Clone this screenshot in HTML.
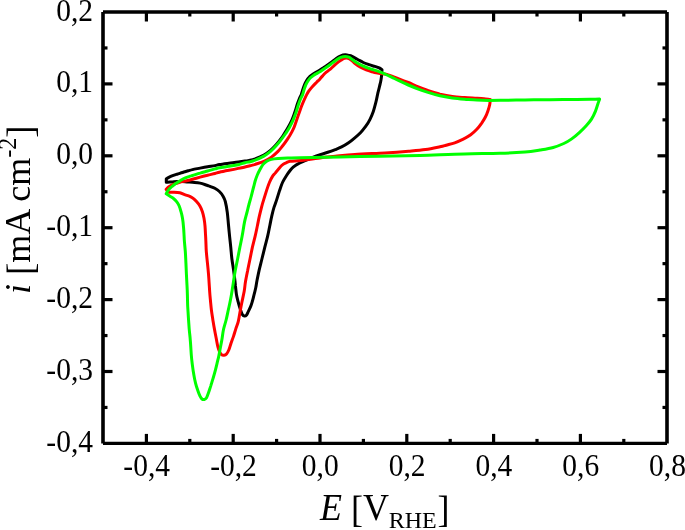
<!DOCTYPE html>
<html><head><meta charset="utf-8"><style>
html,body{margin:0;padding:0;background:#fff;}
body{width:685px;height:530px;overflow:hidden;}
svg{display:block;}
text{font-family:"Liberation Serif","DejaVu Serif",serif;fill:#000;}
</style></head><body>
<svg width="685" height="530" viewBox="0 0 685 530">
<g fill="none" stroke-width="3" stroke-linejoin="round" stroke-linecap="round">
<path stroke="#000" d="M166.3,178.8C167.1,178.4 169.5,177.0 171.3,176.2C173.1,175.4 175.1,174.8 177.0,174.2C178.9,173.6 180.7,173.1 182.6,172.5C184.5,171.9 186.7,171.3 188.3,170.8C190.0,170.3 190.5,170.1 192.5,169.6C194.5,169.1 197.6,168.6 200.1,168.1C202.6,167.6 205.1,167.1 207.6,166.7C210.1,166.3 213.0,166.0 215.0,165.6C217.0,165.2 217.1,164.9 219.4,164.5C221.7,164.1 225.8,163.6 228.9,163.2C232.1,162.8 235.6,162.3 238.3,162.0C241.0,161.7 243.1,161.4 245.0,161.1C246.9,160.8 248.4,160.5 250.0,160.2C251.6,159.9 252.1,160.1 254.4,159.2C256.7,158.3 261.2,156.5 263.9,155.0C266.6,153.5 268.5,152.1 270.5,150.4C272.5,148.7 274.4,146.7 276.1,144.8C277.8,142.9 279.4,140.9 280.8,139.0C282.2,137.1 283.2,135.4 284.4,133.5C285.6,131.6 286.9,129.6 288.2,127.3C289.5,125.0 290.9,122.3 292.0,119.8C293.1,117.3 293.9,114.8 294.8,112.3C295.7,109.8 296.4,106.9 297.2,104.6C298.0,102.3 298.7,100.2 299.4,98.5C300.1,96.8 300.8,95.8 301.4,94.2C302.0,92.6 302.4,90.7 303.0,89.0C303.6,87.3 304.1,85.8 304.7,84.3C305.3,82.8 306.0,81.5 306.8,80.2C307.6,78.9 308.5,77.8 309.6,76.7C310.7,75.7 311.9,74.8 313.2,73.9C314.5,73.0 316.0,72.3 317.4,71.5C318.8,70.7 320.1,69.9 321.4,69.1C322.7,68.3 323.4,67.8 325.0,66.8C326.6,65.8 328.8,64.2 330.7,62.8C332.6,61.4 334.6,59.6 336.3,58.4C338.0,57.2 339.3,56.4 340.8,55.8C342.3,55.2 343.8,54.9 345.2,54.8C346.6,54.7 347.9,55.1 349.0,55.4C350.1,55.6 350.6,55.6 352.0,56.3C353.4,57.0 355.8,58.5 357.7,59.5C359.6,60.5 361.4,61.6 363.3,62.5C365.2,63.4 367.1,64.0 369.0,64.7C370.9,65.4 373.0,65.9 374.7,66.4C376.4,66.9 378.0,67.3 379.2,67.9C380.4,68.5 381.5,69.5 382.0,69.8C381.9,70.8 381.8,73.5 381.6,75.5C381.4,77.5 381.0,80.2 380.6,82.0C380.2,83.8 379.9,84.7 379.5,86.5C379.1,88.3 378.5,90.3 377.9,92.9C377.3,95.5 376.7,99.1 375.9,102.2C375.1,105.3 374.3,108.6 373.3,111.4C372.3,114.2 371.2,116.9 370.0,119.3C368.8,121.7 367.6,123.7 366.0,125.9C364.4,128.1 362.6,130.5 360.7,132.5C358.8,134.5 356.9,136.1 354.8,137.8C352.7,139.6 350.4,141.5 348.2,143.0C346.0,144.5 343.8,145.8 341.6,146.9C339.5,148.0 337.6,148.7 335.3,149.6C333.0,150.5 330.3,151.5 327.8,152.3C325.3,153.1 322.7,153.8 320.2,154.6C317.7,155.4 315.2,156.3 312.7,157.3C310.2,158.3 307.6,159.6 305.1,160.7C302.6,161.8 299.5,163.1 297.6,164.1C295.7,165.1 295.0,165.7 293.8,166.7C292.6,167.7 291.5,168.8 290.3,170.3C289.1,171.8 287.7,173.7 286.4,175.7C285.1,177.7 283.6,180.1 282.5,182.5C281.4,184.9 280.6,187.6 279.6,190.4C278.7,193.2 277.7,196.6 276.8,199.4C275.9,202.2 274.9,204.6 274.0,207.4C273.1,210.2 272.4,213.4 271.7,216.4C271.0,219.4 270.6,221.9 269.9,225.2C269.2,228.5 268.5,232.6 267.6,236.3C266.7,240.0 265.6,243.8 264.7,247.6C263.8,251.4 262.8,255.2 261.9,259.0C261.0,262.8 259.9,266.7 259.1,270.3C258.3,273.9 257.6,277.6 257.0,280.5C256.4,283.4 256.3,285.2 255.8,287.5C255.3,289.8 254.8,292.0 254.2,294.2C253.6,296.4 253.1,298.8 252.5,300.8C251.9,302.8 251.4,304.7 250.7,306.4C250.0,308.1 249.2,309.7 248.5,311.1C247.8,312.5 247.3,314.2 246.6,315.0C245.9,315.8 245.0,316.1 244.3,316.0C243.6,315.9 242.9,315.5 242.2,314.2C241.5,312.9 240.7,310.4 240.0,308.3C239.3,306.2 238.7,304.1 238.1,301.7C237.5,299.3 236.8,296.9 236.4,294.2C236.0,291.5 235.7,288.0 235.4,285.7C235.2,283.4 235.2,283.1 234.9,280.5C234.6,277.9 234.1,273.9 233.6,270.3C233.1,266.7 232.4,262.8 231.9,259.0C231.4,255.2 231.2,251.4 230.8,247.6C230.4,243.8 230.0,240.1 229.6,236.3C229.2,232.5 228.9,229.0 228.5,225.0C228.1,221.0 227.8,216.4 227.3,212.5C226.8,208.6 226.0,204.2 225.3,201.5C224.6,198.8 224.2,198.1 223.2,196.4C222.2,194.7 220.8,192.8 219.4,191.5C218.0,190.2 216.4,189.2 214.8,188.3C213.2,187.4 211.2,186.8 210.0,186.3C208.8,185.8 209.2,186.0 207.6,185.5C205.9,185.0 202.6,183.6 200.1,183.1C197.6,182.6 194.5,182.5 192.5,182.3C190.5,182.1 189.8,182.1 188.0,182.0C186.2,181.9 183.8,181.7 182.0,181.6C180.2,181.5 178.8,181.3 177.0,181.4C175.2,181.5 173.1,181.8 171.3,181.9C169.5,182.0 167.1,182.1 166.3,182.2C166.3,181.6 166.3,179.4 166.3,178.8Z"/>
<path stroke="#ff0000" d="M166.2,189.4C166.6,189.0 167.2,187.9 168.5,187.0C169.8,186.1 172.2,184.9 174.1,184.1C176.0,183.3 178.0,182.7 179.8,182.2C181.7,181.7 183.1,181.6 185.2,181.1C187.3,180.6 190.0,180.0 192.5,179.3C195.0,178.6 197.6,177.8 200.1,177.1C202.6,176.4 205.1,175.8 207.6,175.2C210.1,174.6 213.0,174.0 215.0,173.5C217.0,173.0 217.1,172.7 219.4,172.2C221.7,171.7 225.8,170.9 228.9,170.3C232.1,169.7 235.6,169.0 238.3,168.4C241.0,167.8 243.1,167.4 245.0,167.0C246.9,166.6 248.4,166.2 250.0,165.8C251.6,165.4 252.1,165.3 254.4,164.6C256.7,163.8 261.1,162.6 263.9,161.3C266.7,160.1 269.0,158.8 271.4,157.1C273.8,155.4 276.1,153.3 278.0,151.4C279.9,149.5 281.1,147.8 282.7,145.8C284.3,143.8 285.9,141.6 287.5,139.2C289.1,136.8 290.9,133.7 292.0,131.6C293.1,129.5 293.6,128.6 294.4,126.5C295.2,124.4 296.2,121.3 297.0,119.0C297.8,116.7 298.5,114.6 299.3,112.4C300.1,110.2 300.9,107.9 301.7,105.8C302.5,103.7 303.4,101.5 304.2,99.8C305.0,98.1 305.6,96.8 306.3,95.4C307.0,94.1 307.6,92.9 308.4,91.7C309.2,90.5 310.0,89.5 310.9,88.4C311.8,87.3 312.8,86.1 313.8,85.1C314.8,84.1 315.7,83.2 316.7,82.2C317.7,81.2 319.0,80.0 320.0,78.9C321.0,77.8 321.8,76.7 322.9,75.6C323.9,74.5 325.0,73.3 326.3,72.2C327.6,71.1 329.0,70.2 330.7,68.8C332.4,67.4 334.6,65.1 336.3,63.7C338.0,62.3 339.5,61.2 340.8,60.3C342.1,59.4 343.1,58.6 344.3,58.3C345.5,57.9 346.8,57.9 348.0,58.2C349.2,58.5 350.3,59.3 351.5,60.2C352.7,61.1 353.9,62.6 355.4,63.8C356.9,65.0 358.7,66.3 360.5,67.3C362.3,68.3 364.3,69.1 366.2,69.8C368.1,70.5 370.1,71.2 371.8,71.7C373.5,72.2 374.8,72.6 376.3,72.9C377.8,73.2 379.2,73.3 381.0,73.6C382.8,73.8 384.0,73.5 387.0,74.4C390.0,75.3 395.3,77.5 398.9,78.8C402.4,80.1 405.2,81.2 408.3,82.5C411.4,83.8 414.6,85.4 417.7,86.7C420.8,88.0 423.5,89.0 427.2,90.2C430.9,91.4 435.8,93.0 440.0,94.1C444.2,95.1 448.2,95.9 452.3,96.5C456.4,97.1 460.4,97.3 464.5,97.6C468.6,97.9 473.6,98.1 476.8,98.3C480.1,98.5 481.8,98.6 484.0,98.8C486.2,99.0 489.2,99.4 490.3,99.5C490.2,100.4 490.1,102.8 489.7,104.7C489.3,106.6 488.6,108.9 487.9,110.9C487.2,113.0 486.4,115.0 485.4,117.0C484.4,119.0 483.1,121.0 481.7,123.1C480.3,125.1 478.6,127.4 476.8,129.3C475.0,131.2 472.9,133.2 470.7,134.8C468.4,136.4 466.0,137.8 463.3,139.1C460.6,140.4 457.6,141.8 454.7,142.8C451.8,143.8 448.6,144.5 446.1,145.2C443.7,145.9 443.4,146.1 440.0,146.8C436.6,147.5 430.8,148.8 425.5,149.6C420.2,150.3 415.2,150.7 408.5,151.3C401.8,151.9 393.9,152.5 385.0,153.0C376.1,153.5 363.1,153.8 354.8,154.4C346.5,155.0 341.1,155.7 335.3,156.3C329.5,156.9 325.0,157.3 320.0,157.9C315.0,158.5 308.8,159.4 305.1,159.9C301.4,160.4 300.1,160.5 297.6,160.7C295.1,160.9 291.9,161.0 290.0,161.3C288.1,161.6 287.7,162.1 286.5,162.6C285.3,163.1 283.9,163.6 282.7,164.6C281.4,165.6 280.2,167.0 279.0,168.4C277.8,169.8 276.2,171.8 275.2,173.1C274.2,174.3 273.8,174.3 272.8,175.9C271.8,177.5 270.4,180.1 269.4,182.5C268.4,184.9 267.5,187.6 266.6,190.4C265.7,193.2 264.7,196.6 263.8,199.4C262.9,202.2 262.2,204.6 261.5,207.4C260.8,210.2 260.0,213.4 259.3,216.4C258.6,219.4 258.2,221.9 257.5,225.2C256.8,228.5 256.0,232.6 255.1,236.3C254.2,240.0 253.2,243.8 252.3,247.6C251.5,251.4 250.8,255.2 250.0,259.0C249.2,262.8 248.4,266.5 247.7,270.3C246.9,274.1 246.1,278.1 245.5,281.6C244.9,285.1 244.8,288.0 244.2,291.3C243.6,294.6 242.7,298.4 242.0,301.7C241.3,305.0 240.8,307.7 240.2,311.0C239.6,314.3 239.0,318.3 238.3,321.3C237.6,324.3 236.6,326.4 235.8,328.9C235.0,331.4 234.3,334.0 233.5,336.4C232.7,338.8 231.9,340.7 231.1,343.0C230.3,345.3 229.6,348.2 228.8,350.0C228.0,351.8 227.3,353.1 226.5,354.0C225.7,354.9 224.8,355.1 224.0,355.2C223.2,355.3 222.2,355.2 221.5,354.6C220.8,354.0 220.1,352.9 219.5,351.6C218.9,350.3 218.5,349.0 217.9,346.8C217.3,344.6 216.8,341.3 216.2,338.3C215.6,335.3 215.0,332.0 214.4,328.9C213.8,325.8 213.3,322.5 212.8,319.4C212.3,316.2 211.8,313.2 211.4,310.0C211.0,306.8 210.7,303.0 210.4,300.0C210.1,297.0 210.0,296.3 209.7,292.0C209.4,287.7 208.9,278.9 208.5,274.0C208.1,269.1 207.8,266.4 207.4,262.6C207.0,258.8 206.6,255.1 206.3,251.3C206.0,247.5 206.0,243.1 205.8,240.0C205.7,236.9 205.5,234.9 205.4,232.5C205.3,230.1 205.2,228.2 205.0,225.8C204.8,223.4 204.4,220.7 204.0,218.3C203.6,216.0 203.1,213.8 202.4,211.7C201.7,209.6 200.9,207.7 199.9,206.0C198.9,204.3 197.6,202.8 196.5,201.6C195.4,200.4 194.6,199.6 193.5,198.7C192.4,197.8 191.2,197.1 189.8,196.4C188.4,195.8 187.0,195.4 185.3,194.8C183.6,194.2 181.7,193.2 179.8,192.8C177.9,192.4 176.0,192.3 174.1,192.2C172.2,192.1 169.8,192.6 168.5,192.1C167.2,191.6 166.6,189.8 166.2,189.4Z"/>
<path stroke="#00ff00" d="M166.2,193.8C166.6,193.1 167.7,190.9 168.5,189.8C169.3,188.7 170.4,187.8 171.3,187.0C172.2,186.2 173.2,185.4 174.1,184.7C175.0,184.0 176.1,183.3 177.0,182.7C177.9,182.1 178.9,181.6 179.8,181.0C180.7,180.4 181.7,179.8 182.6,179.3C183.5,178.8 184.1,178.3 185.3,177.8C186.5,177.3 188.8,176.6 190.0,176.2C191.2,175.8 190.8,176.0 192.5,175.5C194.2,175.0 197.6,173.8 200.1,173.1C202.6,172.3 205.1,171.7 207.6,171.0C210.1,170.3 213.0,169.4 215.0,168.9C217.0,168.4 217.1,168.2 219.4,167.8C221.7,167.4 225.8,166.8 228.9,166.3C232.1,165.8 235.6,165.3 238.3,164.7C241.0,164.1 243.1,163.2 245.0,162.7C246.9,162.2 248.4,162.1 250.0,161.7C251.6,161.3 252.1,161.3 254.4,160.4C256.7,159.5 261.2,157.6 263.9,156.1C266.6,154.6 268.5,153.1 270.5,151.4C272.5,149.7 274.4,147.7 276.1,145.8C277.8,143.9 279.2,142.2 280.8,140.1C282.4,138.0 284.2,135.6 285.6,133.5C287.0,131.4 288.1,129.8 289.4,127.5C290.7,125.2 292.1,122.4 293.2,119.9C294.3,117.4 295.1,114.9 296.0,112.4C296.9,109.9 297.6,107.1 298.4,104.8C299.2,102.5 299.9,100.5 300.6,98.8C301.3,97.1 302.0,96.2 302.6,94.6C303.2,93.0 303.6,90.9 304.2,89.2C304.8,87.5 305.3,86.0 305.9,84.6C306.5,83.2 307.2,82.0 308.0,80.9C308.8,79.8 309.5,78.8 310.5,77.8C311.5,76.8 312.6,76.0 313.8,75.2C315.0,74.4 316.5,73.7 317.8,72.9C319.1,72.1 320.6,71.3 321.8,70.5C323.0,69.7 323.5,69.2 325.0,68.2C326.5,67.2 328.8,65.6 330.7,64.2C332.6,62.8 334.6,61.0 336.3,59.9C338.0,58.8 339.3,57.9 340.8,57.3C342.3,56.7 343.9,56.4 345.2,56.4C346.5,56.4 347.6,56.7 348.8,57.2C350.0,57.7 350.7,58.6 352.2,59.6C353.7,60.6 355.8,62.2 357.7,63.3C359.6,64.4 361.4,65.3 363.3,66.2C365.2,67.1 367.1,67.8 369.0,68.4C370.9,69.1 372.8,69.5 374.7,70.1C376.6,70.7 378.2,71.3 380.3,72.1C382.4,72.9 384.9,74.0 387.0,75.0C389.1,76.0 391.0,76.8 393.0,77.8C395.0,78.8 396.3,79.5 398.9,80.7C401.4,81.9 405.2,83.7 408.3,85.0C411.4,86.3 414.6,87.6 417.7,88.8C420.8,90.0 423.5,90.9 427.2,92.1C430.9,93.3 435.8,94.8 440.0,95.8C444.2,96.8 448.2,97.4 452.3,98.0C456.4,98.6 460.4,98.9 464.5,99.2C468.6,99.5 472.7,99.9 476.8,100.1C480.9,100.3 485.1,100.4 489.0,100.4C492.9,100.4 494.0,100.4 500.0,100.3C506.0,100.2 516.7,100.0 525.0,99.9C533.3,99.8 542.5,99.8 550.0,99.7C557.5,99.6 563.3,99.6 570.0,99.5C576.7,99.4 585.1,99.4 590.0,99.3C594.9,99.2 598.0,99.1 599.6,99.1C599.4,99.8 598.8,101.2 598.1,103.2C597.4,105.2 596.6,108.4 595.5,111.1C594.4,113.8 593.0,116.7 591.5,119.1C590.0,121.5 588.2,123.5 586.2,125.7C584.2,127.9 582.0,130.1 579.6,132.3C577.2,134.5 574.3,137.0 571.7,138.9C569.1,140.8 566.9,142.1 563.8,143.5C560.7,144.9 557.2,146.4 553.2,147.5C549.2,148.6 544.7,149.3 540.0,150.1C535.3,150.8 531.7,151.5 525.0,152.0C518.3,152.5 510.1,153.0 500.0,153.3C489.9,153.6 477.8,153.6 464.5,153.9C451.2,154.2 434.1,155.0 420.0,155.4C405.9,155.8 393.3,155.9 380.0,156.2C366.7,156.5 353.3,156.7 340.0,157.0C326.7,157.3 308.8,157.6 300.0,157.8C291.2,158.0 291.2,157.9 287.5,158.0C283.8,158.1 280.7,158.3 278.0,158.5C275.3,158.7 273.3,158.9 271.4,159.4C269.5,159.9 268.1,160.4 266.7,161.3C265.3,162.2 264.0,163.3 262.9,164.6C261.8,165.9 261.0,167.6 260.1,169.3C259.2,171.0 258.1,173.1 257.3,175.0C256.5,176.9 255.9,178.5 255.3,180.5C254.7,182.5 254.3,184.4 253.6,187.0C252.9,189.6 252.1,193.2 251.3,196.0C250.6,198.8 249.8,201.2 249.1,204.0C248.3,206.8 247.6,210.0 246.8,213.0C246.0,216.0 245.3,218.2 244.5,222.1C243.7,226.0 242.9,232.1 242.1,236.3C241.3,240.6 240.6,243.8 239.8,247.6C239.1,251.4 238.3,255.2 237.6,259.0C236.8,262.8 236.0,266.5 235.3,270.3C234.6,274.1 234.0,278.3 233.5,281.6C233.0,284.9 232.7,286.8 232.2,290.0C231.7,293.2 231.0,297.5 230.3,300.8C229.7,304.1 229.0,306.8 228.3,310.0C227.6,313.2 226.9,316.8 226.1,320.0C225.3,323.2 224.2,326.3 223.5,329.5C222.8,332.7 222.5,335.9 222.0,339.0C221.5,342.1 220.8,345.2 220.3,348.0C219.8,350.8 219.2,353.9 218.8,356.0C218.4,358.1 218.3,358.3 217.7,360.7C217.1,363.1 216.2,367.1 215.4,370.1C214.6,373.1 213.8,375.9 213.0,378.6C212.2,381.3 211.4,383.7 210.7,386.1C209.9,388.5 209.2,390.8 208.5,392.8C207.8,394.8 207.1,396.9 206.4,398.0C205.7,399.1 204.9,399.3 204.2,399.5C203.5,399.7 202.7,399.6 202.0,399.0C201.3,398.4 200.6,397.2 199.9,395.8C199.2,394.4 198.6,392.9 197.9,390.8C197.2,388.7 196.3,386.1 195.6,383.3C194.9,380.5 194.2,377.0 193.7,373.9C193.1,370.8 192.7,367.5 192.3,364.4C191.9,361.2 191.6,359.0 191.3,355.0C191.0,351.0 190.7,344.6 190.3,340.3C190.0,336.0 189.5,332.8 189.2,329.0C188.9,325.2 188.7,321.4 188.4,317.6C188.2,313.8 187.9,310.1 187.7,306.3C187.5,302.5 187.5,298.5 187.4,295.0C187.3,291.5 187.2,288.8 187.0,285.3C186.8,281.8 186.6,277.8 186.4,274.0C186.2,270.2 186.1,266.4 185.9,262.6C185.7,258.8 185.6,255.1 185.3,251.3C185.0,247.5 184.5,243.1 184.3,240.0C184.1,236.9 184.1,234.9 183.9,232.5C183.8,230.1 183.6,228.2 183.4,225.8C183.2,223.4 182.9,220.7 182.5,218.3C182.1,216.0 181.6,213.8 181.0,211.7C180.4,209.6 179.9,207.7 179.2,206.0C178.5,204.3 177.8,203.1 176.8,201.8C175.9,200.6 174.7,199.4 173.5,198.5C172.3,197.6 170.9,196.9 169.7,196.1C168.5,195.3 166.8,194.2 166.2,193.8Z"/>
</g>
<g stroke="#000" stroke-width="3.2" fill="none">
<line x1="146.40" y1="443.4" x2="146.40" y2="433.9"/><line x1="146.40" y1="12.0" x2="146.40" y2="21.5"/><line x1="189.80" y1="443.4" x2="189.80" y2="438.9"/><line x1="189.80" y1="12.0" x2="189.80" y2="16.5"/><line x1="233.20" y1="443.4" x2="233.20" y2="433.9"/><line x1="233.20" y1="12.0" x2="233.20" y2="21.5"/><line x1="276.60" y1="443.4" x2="276.60" y2="438.9"/><line x1="276.60" y1="12.0" x2="276.60" y2="16.5"/><line x1="320.00" y1="443.4" x2="320.00" y2="433.9"/><line x1="320.00" y1="12.0" x2="320.00" y2="21.5"/><line x1="363.40" y1="443.4" x2="363.40" y2="438.9"/><line x1="363.40" y1="12.0" x2="363.40" y2="16.5"/><line x1="406.80" y1="443.4" x2="406.80" y2="433.9"/><line x1="406.80" y1="12.0" x2="406.80" y2="21.5"/><line x1="450.20" y1="443.4" x2="450.20" y2="438.9"/><line x1="450.20" y1="12.0" x2="450.20" y2="16.5"/><line x1="493.60" y1="443.4" x2="493.60" y2="433.9"/><line x1="493.60" y1="12.0" x2="493.60" y2="21.5"/><line x1="537.00" y1="443.4" x2="537.00" y2="438.9"/><line x1="537.00" y1="12.0" x2="537.00" y2="16.5"/><line x1="580.40" y1="443.4" x2="580.40" y2="433.9"/><line x1="580.40" y1="12.0" x2="580.40" y2="21.5"/><line x1="623.80" y1="443.4" x2="623.80" y2="438.9"/><line x1="623.80" y1="12.0" x2="623.80" y2="16.5"/><line x1="103" y1="407.45" x2="107.5" y2="407.45"/><line x1="667" y1="407.45" x2="662.5" y2="407.45"/><line x1="103" y1="371.50" x2="112.5" y2="371.50"/><line x1="667" y1="371.50" x2="657.5" y2="371.50"/><line x1="103" y1="335.55" x2="107.5" y2="335.55"/><line x1="667" y1="335.55" x2="662.5" y2="335.55"/><line x1="103" y1="299.60" x2="112.5" y2="299.60"/><line x1="667" y1="299.60" x2="657.5" y2="299.60"/><line x1="103" y1="263.65" x2="107.5" y2="263.65"/><line x1="667" y1="263.65" x2="662.5" y2="263.65"/><line x1="103" y1="227.70" x2="112.5" y2="227.70"/><line x1="667" y1="227.70" x2="657.5" y2="227.70"/><line x1="103" y1="191.75" x2="107.5" y2="191.75"/><line x1="667" y1="191.75" x2="662.5" y2="191.75"/><line x1="103" y1="155.80" x2="112.5" y2="155.80"/><line x1="667" y1="155.80" x2="657.5" y2="155.80"/><line x1="103" y1="119.85" x2="107.5" y2="119.85"/><line x1="667" y1="119.85" x2="662.5" y2="119.85"/><line x1="103" y1="83.90" x2="112.5" y2="83.90"/><line x1="667" y1="83.90" x2="657.5" y2="83.90"/><line x1="103" y1="47.95" x2="107.5" y2="47.95"/><line x1="667" y1="47.95" x2="662.5" y2="47.95"/>
<path stroke-width="3.4" d="M103,12H667M103,443.4H667"/><path stroke-width="3.6" d="M103,12V443.4M667,12V443.4"/>
</g>
<g font-size="29.5">
<text transform="translate(146.7,476) scale(1,1.09)" text-anchor="middle">-0,4</text><text transform="translate(233.5,476) scale(1,1.09)" text-anchor="middle">-0,2</text><text transform="translate(320.3,476) scale(1,1.09)" text-anchor="middle">0,0</text><text transform="translate(407.1,476) scale(1,1.09)" text-anchor="middle">0,2</text><text transform="translate(493.9,476) scale(1,1.09)" text-anchor="middle">0,4</text><text transform="translate(580.7,476) scale(1,1.09)" text-anchor="middle">0,6</text><text transform="translate(667.5,476) scale(1,1.09)" text-anchor="middle">0,8</text>
<text transform="translate(93,451.9) scale(1,1.09)" text-anchor="end">-0,4</text><text transform="translate(93,380.0) scale(1,1.09)" text-anchor="end">-0,3</text><text transform="translate(93,308.1) scale(1,1.09)" text-anchor="end">-0,2</text><text transform="translate(93,236.2) scale(1,1.09)" text-anchor="end">-0,1</text><text transform="translate(93,164.3) scale(1,1.09)" text-anchor="end">0,0</text><text transform="translate(93,92.4) scale(1,1.09)" text-anchor="end">0,1</text><text transform="translate(93,20.5) scale(1,1.09)" text-anchor="end">0,2</text>
</g>
<text transform="translate(320,520) scale(1,1.05)" font-size="36"><tspan font-style="italic">E</tspan> <tspan dy="2.2">[</tspan><tspan dy="-2.2">V</tspan></text>
<text transform="translate(388.7,528) scale(1,0.94)" font-size="24">RHE</text>
<text transform="translate(437.4,522.3) scale(1,1.05)" font-size="36">]</text>
<text transform="translate(30.3,294) rotate(-90) scale(1,1.02)" font-size="36"><tspan font-style="italic">i</tspan> <tspan font-size="37" dy="2.5">[</tspan><tspan dy="-2.5">mA cm</tspan><tspan font-size="24" dy="-14">-2</tspan><tspan font-size="37" dy="16.5">]</tspan></text>
</svg>
</body></html>
